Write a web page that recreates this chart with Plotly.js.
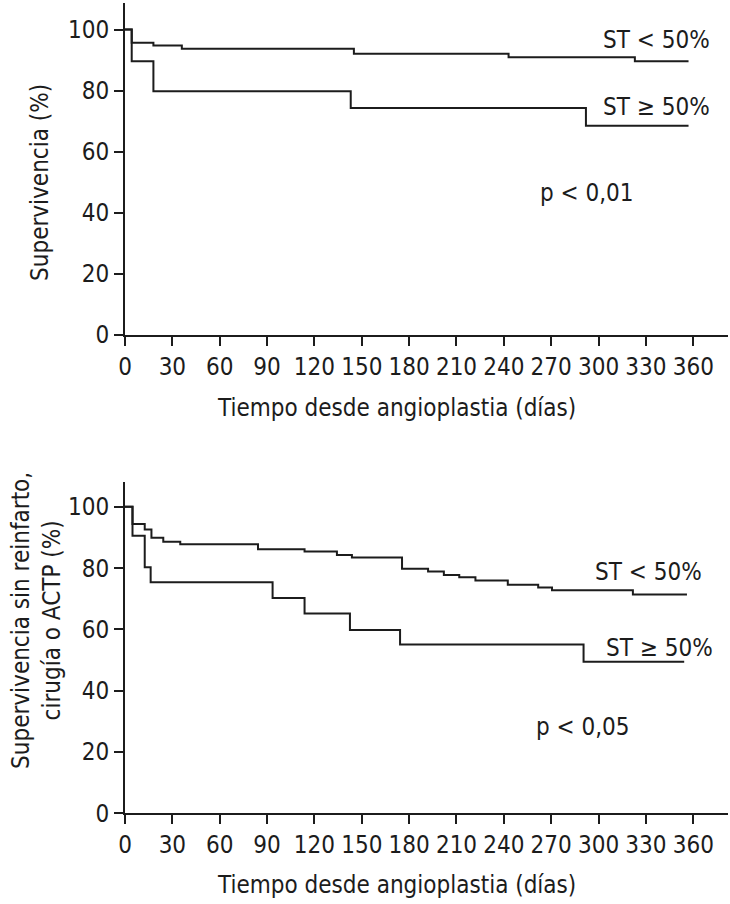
<!DOCTYPE html>
<html>
<head>
<meta charset="utf-8">
<script src="https://cdn.plot.ly/plotly-3.0.1.min.js"></script>
<style>
  html, body { margin: 0; padding: 0; background: #fff; }
  #chart { width: 730px; height: 904px; }
</style>
</head>
<body>
<div id="chart"></div>
<script>
// panel 1: supervivencia
const daysTopLow = [0, 4.25, 18, 36, 145, 243, 323, 357];
const survTopLow = [100, 95.7, 94.8, 93.7, 92.1, 90.9, 89.6, 89.6];
const daysTopHigh = [0, 4.25, 18, 143, 292, 357];
const survTopHigh = [100, 89.6, 79.8, 74.3, 68.5, 68.5];

// panel 2: supervivencia sin reinfarto, cirugia o ACTP
const daysBotLow = [0, 4.75, 12.5, 16.75, 24.25, 35, 84.25, 113.75, 134.25, 143.75, 175.5, 192, 202, 211.75, 222, 242.5, 261.75, 270.5, 321.75, 356];
const survBotLow = [100, 94.4, 92.6, 89.9, 88.6, 87.8, 86.2, 85.4, 84.3, 83.5, 79.8, 78.9, 77.8, 77.0, 76.0, 74.6, 73.7, 72.8, 71.4, 71.4];
const daysBotHigh = [0, 4.75, 12.5, 16.25, 93.5, 113.75, 142.5, 174.25, 290.5, 354.25];
const survBotHigh = [100, 90.6, 80.3, 75.4, 70.3, 65.2, 59.8, 55.1, 49.5, 49.5];

const dayTicks = [0, 30, 60, 90, 120, 150, 180, 210, 240, 270, 300, 330, 360];
const pctTicks = [0, 20, 40, 60, 80, 100];

const ink = '#1c1c1c';
const fam = '"Liberation Sans Narrow", "DejaVu Sans Condensed", "Roboto Condensed", "Arial Narrow", sans-serif';
const fs = 24;

function km(x, y, xa, ya) {
    return { x: x, y: y, xaxis: xa, yaxis: ya, type: 'scatter', mode: 'lines',
             line: { shape: 'hv', color: ink, width: 2 }, hoverinfo: 'skip' };
}

const data = [
    km(daysTopLow, survTopLow, 'x', 'y'),
    km(daysTopHigh, survTopHigh, 'x', 'y'),
    km(daysBotLow, survBotLow, 'x2', 'y2'),
    km(daysBotHigh, survBotHigh, 'x2', 'y2')
];

const xax = (anchor) => ({
    anchor: anchor, range: [0, 382], showgrid: false, zeroline: false,
    showline: true, linecolor: ink, linewidth: 2,
    ticks: 'outside', ticklen: 9, tickwidth: 2, tickcolor: ink,
    tickvals: dayTicks, ticktext: dayTicks.map(String),
    tickfont: { family: fam, size: fs, color: ink }
});
const yax = (anchor, top, dom) => ({
    anchor: anchor, range: [0, top], domain: dom, showgrid: false, zeroline: false,
    showline: true, linecolor: ink, linewidth: 2,
    ticks: 'outside', ticklen: 9, tickwidth: 2, tickcolor: ink,
    tickvals: pctTicks, ticktext: pctTicks.map(String),
    tickfont: { family: fam, size: fs, color: ink }
});

const note = (text, x, y, xref, yref, extra) => Object.assign({
    text: text, x: x, y: y, xref: xref, yref: yref, showarrow: false,
    xanchor: 'center', yanchor: 'middle',
    font: { family: fam, size: fs, color: ink }
}, extra || {});

const layout = {
    width: 730, height: 904,
    margin: { l: 125, r: 2, t: 0, b: 0 },
    paper_bgcolor: '#fff', plot_bgcolor: '#fff',
    showlegend: false,
    xaxis: xax('y'),
    yaxis: yax('x', 108.7, [0.6294, 0.9967]),
    xaxis2: xax('y2'),
    yaxis2: yax('x2', 108.2, [0.1003, 0.4671]),
    annotations: [
        note('ST &lt; 50%', 337, 96.6, 'x', 'y'),
        note('ST ≥ 50%', 337, 74.6, 'x', 'y'),
        note('p &lt; 0,01', 292.7, 46.5, 'x', 'y'),
        note('ST &lt; 50%', 331.5, 78.7, 'x2', 'y2'),
        note('ST ≥ 50%', 338.5, 53.8, 'x2', 'y2'),
        note('p &lt; 0,05', 290, 28.1, 'x2', 'y2'),
        note('Tiempo desde angioplastia (días)', 0.45, 0.549, 'paper', 'paper'),
        note('Tiempo desde angioplastia (días)', 0.45, 0.021, 'paper', 'paper'),
        note('Supervivencia (%)', -0.141, 0.7987, 'paper', 'paper', { textangle: -90 }),
        note('Supervivencia sin reinfarto,<br>cirugía o ACTP (%)', -0.146, 0.3142, 'paper', 'paper', { textangle: -90 })
    ]
};

Plotly.newPlot('chart', data, layout, { staticPlot: true, displayModeBar: false });
</script>
</body>
</html>
